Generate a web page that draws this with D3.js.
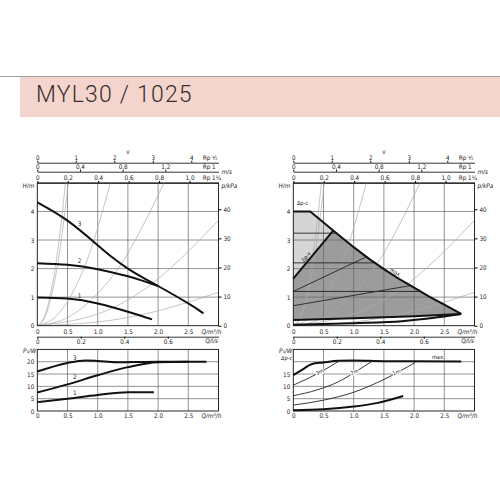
<!DOCTYPE html>
<meta charset="utf-8">
<style>
body { margin: 0; background: #fff; }
text { font-family: "DejaVu Sans Condensed", "Liberation Sans Narrow", "DejaVu Sans", sans-serif; font-size: 6.3px; fill: #222; }
.grid { stroke: #666; stroke-width: 0.7; }
.sys { fill: none; stroke: #aaa; stroke-width: 0.7; }
.curve { fill: none; stroke: #111; stroke-width: 2; }
.thin { fill: none; stroke: #222; stroke-width: 0.9; }
.it { font-style: italic; }
</style>
<body>
<script src="https://cdn.jsdelivr.net/npm/d3@7"></script>
<script>

// ---- data ----
var qTicks = [0, 0.5, 1, 1.5, 2, 2.5];
var hTicks = [0, 1, 2, 3, 4];
var pTicks = [0, 10, 20, 30, 40];
var lsTicks = [0, 0.2, 0.4, 0.6];
var wTicks = [0, 5, 10, 15, 20];
var pipeNames = ["Rp ½", "Rp 1", "Rp 1¼"];
var pipeFactor = [0.6375, 1.766, 2.52];   // m3/h per 1 m/s
var vTicks = [[0, 1, 2, 3, 4], [0, 0.4, 0.8, 1.2], [0, 0.2, 0.4, 0.6, 0.8, 1.0]];

// system curves (Q m3/h, H m)
var sysCurves = [
  [[0,0],[0.1,0.23],[0.2,0.92],[0.3,2.07],[0.4,3.68],[0.466,5]],
  [[0,0],[0.1,0.19],[0.2,0.76],[0.3,1.71],[0.4,3.04],[0.513,5]],
  [[0,0],[0.3,0.31],[0.6,1.22],[0.9,2.75],[1.21,5]],
  [[0,0],[0.5,0.28],[1.0,1.13],[1.5,2.54],[2.1,5]],
  [[0,0],[1,0.41],[2,1.64],[3,3.69]],
  [[0,0],[1,0.13],[2,0.52],[3,1.17]]
];

// left: speed stages
var head3 = [[0,4.32],[0.5,3.68],[1.0,2.82],[1.25,2.38],[1.5,2.0],[1.75,1.68],[2.0,1.39],[2.5,0.78],[2.75,0.43]];
var head2 = [[0,2.19],[0.5,2.13],[1.0,1.98],[1.5,1.73],[1.75,1.57],[2.0,1.39]];
var head1 = [[0,0.99],[0.5,0.95],[1.0,0.78],[1.5,0.49],[1.9,0.22]];
var power3 = [[0,16],[0.5,19.5],[0.8,20.5],[1.0,20.3],[1.3,19.8],[2.0,20],[2.8,20]];
var power2 = [[0,7.5],[0.5,10.8],[1.0,14.5],[1.5,17.8],[2.0,19.8],[2.5,20]];
var power1 = [[0,3.6],[0.5,5],[1.0,6.5],[1.5,7.6],[1.93,7.6]];

// right: control modes
var maxHead = [[0,4.0],[0.28,4.0],[0.66,3.33],[1.0,2.75],[1.25,2.35],[1.5,1.98],[1.75,1.64],[2.0,1.33],[2.25,1.02],[2.5,0.74],[2.78,0.41]];
var dpvMax = [[0,1.65],[0.66,3.33]];
var dpvLines = [[[0,1.2],[1.2,2.4]], [[0,0.7],[1.93,1.4]]];
var dpcLines = [[[0,3.24],[0.7,3.24]], [[0,2.2],[1.36,2.2]], [[0,1.2],[2.11,1.2]]];
var minUpper = [[0,0.2],[1.0,0.26],[2.0,0.33],[2.78,0.41]];
var minLower = [[0,0.03],[1.0,0.09],[1.8,0.16],[2.3,0.27],[2.78,0.41]];
var powerMax = [[0,14.6],[0.15,16.8],[0.3,19.0],[0.5,19.7],[0.75,20.4],[1.0,20.5],[1.5,20.2],[2.0,20.2],[2.78,20.1]];
var power3m = [[0,10.5],[0.25,13.3],[0.5,16.5],[0.75,20.2]];
var power2m = [[0,6.2],[0.4,8.6],[0.75,11.9],[1.1,17.0],[1.3,20.1]];
var power1m = [[0,2.4],[0.5,4.4],[1.0,7.6],[1.5,12.8],[2.02,19.7]];
var powerMin = [[0,0.3],[0.5,0.7],[1.0,1.8],[1.4,3.3],[1.82,6.1]];

var svg = d3.select("body").append("svg")
    .attr("width", 500)
    .attr("height", 500);

// header band
svg.append("line").attr("x1", 0).attr("x2", 500).attr("y1", 76.5).attr("y2", 76.5)
    .attr("stroke", "#8a8a8a").attr("stroke-width", 0.8);
svg.append("rect").attr("x", 20).attr("y", 77).attr("width", 480).attr("height", 40)
    .attr("fill", "#f3d5cd");
svg.append("text").attr("x", 36).attr("y", 102)
    .attr("style", "font-family: Roboto, 'DejaVu Sans', sans-serif; font-size: 23px; font-weight: 300; letter-spacing: 1.2px; fill: #3a2c2c")
    .text("MYL30 / 1025");

var fmt1 = function(d) { return d === 0 ? "0" : d.toFixed(1); };
var noDomain = function(g) { g.select(".domain").remove(); };

// draws axes, grid and system curves of one panel, returns scales
function frame(ox, rightPanel) {
  var x = d3.scaleLinear().domain([0, 3]).range([37.3 + ox, 218.5 + ox]);
  var y = d3.scaleLinear().domain([0, 5]).range([325.7, 182.9]);
  var yk = y.copy().domain([0, 5 * 9.81]);
  var yw = d3.scaleLinear().domain([0, 25]).range([411, 349.4]);
  var xls = x.copy().domain([0, 3 / 3.6]);
  var g = svg.append("g");
  var under = g.append("g");
  var clip = "clip" + ox;
  g.append("clipPath").attr("id", clip).append("rect")
      .attr("x", x(0)).attr("y", y(5)).attr("width", x(3) - x(0)).attr("height", y(0) - y(5));

  // velocity scales on top
  var vy = [162.7, 171.7, y(5)];
  pipeNames.forEach(function(name, i) {
    var s = x.copy().domain([0, 3 / pipeFactor[i]]);
    g.append("g").attr("transform", "translate(0," + vy[i] + ")")
        .call(d3.axisTop(s).tickValues(vTicks[i]).tickSize(2).tickSizeOuter(0).tickPadding(1.2)
          .tickFormat(i === 0 ? d3.format("d") : fmt1))
        .call(function(a) { a.select(".domain").attr("stroke-width", 0.8); });
    g.append("text").attr("x", x(2.74)).attr("y", vy[i] - 3.2).text(name);
  });
  g.append("text").attr("x", x(1.5)).attr("y", 154).attr("text-anchor", "middle").text("v");
  g.append("text").attr("class", "it").attr("x", x(3) + 3).attr("y", 173.8).text("m/s");

  // head grid
  g.append("g").selectAll("line").data(qTicks.slice(1)).join("line").attr("class", "grid")
      .attr("x1", x).attr("x2", x).attr("y1", y(0)).attr("y2", y(5));
  g.append("g").selectAll("line").data(hTicks.slice(1)).join("line").attr("class", "grid")
      .attr("x1", x(0)).attr("x2", x(3)).attr("y1", y).attr("y2", y);

  var sysLine = d3.line().x(function(d) { return x(d[0]); }).y(function(d) { return y(d[1]); })
      .curve(d3.curveNatural);
  g.append("g").attr("clip-path", "url(#" + clip + ")")
    .selectAll("path").data(sysCurves).join("path").attr("class", "sys").attr("d", sysLine);

  g.append("rect").attr("x", x(0)).attr("y", y(5)).attr("width", x(3) - x(0)).attr("height", y(0) - y(5))
      .attr("fill", "none").attr("stroke", "#111").attr("stroke-width", 0.9);

  g.append("g").attr("transform", "translate(" + x(0) + ",0)")
      .call(d3.axisLeft(y).tickValues(hTicks).tickSize(0).tickPadding(3).tickFormat(d3.format("d"))).call(noDomain);
  g.append("g").attr("transform", "translate(" + x(3) + ",0)")
      .call(d3.axisRight(yk).tickValues(pTicks).tickSize(3).tickPadding(2).tickFormat(d3.format("d"))).call(noDomain);
  g.append("g").attr("transform", "translate(0," + y(0) + ")")
      .call(d3.axisBottom(x).tickValues(qTicks).tickSize(0).tickPadding(3.6).tickFormat(fmt1)).call(noDomain);
  g.append("text").attr("class", "it").attr("x", x(0) - 3).attr("y", 188).attr("text-anchor", "end").text("H/m");
  g.append("text").attr("class", "it").attr("x", x(3) + 3).attr("y", 188).text("p/kPa");
  g.append("text").attr("class", "it").attr("x", x(2.72)).attr("y", 334).text("Q/m³/h");

  // l/s scale
  g.append("g").attr("transform", "translate(0,336.7)")
      .call(d3.axisBottom(xls).tickValues(lsTicks).tickSize(2).tickSizeOuter(0).tickPadding(0.5).tickFormat(fmt1))
      .call(function(a) { a.select(".domain").attr("stroke-width", 0.8); });
  g.append("text").attr("class", "it").attr("x", x(2.78)).attr("y", 343.3).text("Q/l/s");

  // power grid
  g.append("g").selectAll("line").data(qTicks.slice(1)).join("line").attr("class", "grid")
      .attr("x1", x).attr("x2", x).attr("y1", yw(0)).attr("y2", yw(25));
  g.append("g").selectAll("line").data(wTicks.slice(1)).join("line").attr("class", "grid")
      .attr("x1", x(0)).attr("x2", x(3)).attr("y1", yw).attr("y2", yw);
  g.append("rect").attr("x", x(0)).attr("y", yw(25)).attr("width", x(3) - x(0)).attr("height", yw(0) - yw(25))
      .attr("fill", "none").attr("stroke", "#111").attr("stroke-width", 0.9);
  g.append("g").attr("transform", "translate(" + x(0) + ",0)")
      .call(d3.axisLeft(yw).tickValues(rightPanel ? wTicks.slice(0, 4) : wTicks).tickSize(0).tickPadding(3)).call(noDomain);
  g.append("g").attr("transform", "translate(0," + yw(0) + ")")
      .call(d3.axisBottom(x).tickValues(qTicks).tickSize(0).tickPadding(2.4).tickFormat(fmt1)).call(noDomain);
  g.append("text").attr("class", "it").attr("x", x(2.72)).attr("y", 418).text("Q/m³/h");
  g.append("text").attr("class", "it").attr("x", x(0) - 1).attr("y", 352.5).attr("text-anchor", "end")
      .text("P₁/W");

  return { x: x, y: y, yw: yw, g: g, under: under };
}

function angle(x, yy, a, b) {
  return Math.atan2(yy(b[1]) - yy(a[1]), x(b[0]) - x(a[0])) * 180 / Math.PI;
}

// ---- left panel ----
var L = frame(0, false);
var lh = d3.line().x(function(d) { return L.x(d[0]); }).y(function(d) { return L.y(d[1]); }).curve(d3.curveNatural);
var lp = d3.line().x(function(d) { return L.x(d[0]); }).y(function(d) { return L.yw(d[1]); }).curve(d3.curveMonotoneX);
[head3, head2, head1].forEach(function(c) { L.g.append("path").attr("class", "curve").attr("d", lh(c)); });
[power3, power2, power1].forEach(function(c) { L.g.append("path").attr("class", "curve").attr("d", lp(c)); });
[["3", 3.55], ["2", 2.27], ["1", 1.04]].forEach(function(s) {
  L.g.append("text").attr("x", L.x(0.7)).attr("y", L.y(s[1]) + 2).attr("text-anchor", "middle").text(s[0]);
});
[["3", 21.6], ["2", 13.6], ["1", 7.2]].forEach(function(s) {
  L.g.append("text").attr("x", L.x(0.62)).attr("y", L.yw(s[1]) + 2).attr("text-anchor", "middle").text(s[0]);
});

// ---- right panel ----
var R = frame(256, true);
var rl = d3.line().x(function(d) { return R.x(d[0]); }).y(function(d) { return R.y(d[1]); });
var rlc = d3.line().x(function(d) { return R.x(d[0]); }).y(function(d) { return R.y(d[1]); }).curve(d3.curveMonotoneX);
var rp = d3.line().x(function(d) { return R.x(d[0]); }).y(function(d) { return R.yw(d[1]); }).curve(d3.curveMonotoneX);

var lightArea = maxHead.filter(function(d) { return d[0] <= 0.66; }).concat([dpvMax[0]]);
var darkArea = [dpvMax[0]].concat(maxHead.filter(function(d) { return d[0] >= 0.66; }))
    .concat(minUpper.slice().reverse());
R.under.append("path").attr("d", rl(lightArea) + "Z").attr("fill", "#d5d5d5");
R.under.append("path").attr("d", rl(darkArea) + "Z").attr("fill", "#9c9c9c");

dpcLines.concat(dpvLines).forEach(function(c) {
  R.g.append("path").attr("class", "thin").attr("d", rl(c));
});
R.g.append("path").attr("class", "curve").attr("d", rl(maxHead));
R.g.append("path").attr("class", "curve").attr("d", rl(dpvMax));
R.g.append("path").attr("class", "curve").attr("stroke-width", 1.8).attr("d", rl(minUpper));
R.g.append("path").attr("class", "curve").attr("stroke-width", 1.3).attr("d", rlc(minLower));

R.g.append("text").attr("x", R.x(0.06)).attr("y", R.y(4.22)).style("font-size", "5.6px").text("Δp-c");
var a1 = angle(R.x, R.y, dpvMax[0], dpvMax[1]);
R.g.append("text").attr("transform", "translate(" + (R.x(0.27) - 2) + "," + (R.y(2.33) - 1) + ") rotate(" + a1 + ")")
    .attr("text-anchor", "middle").style("font-size", "5.6px").text("Δp-v");
var a2 = angle(R.x, R.y, [1.5, 1.98], [2.0, 1.33]);
R.g.append("text").attr("transform", "translate(" + R.x(1.68) + "," + (R.y(1.74) - 1.8) + ") rotate(" + a2 + ")")
    .attr("text-anchor", "middle").style("font-size", "5.6px").text("max.");

[power1m, power2m, power3m].forEach(function(c) {
  R.g.append("path").attr("class", "thin").attr("d", rp(c));
});
R.g.append("path").attr("class", "curve").attr("d", rp(powerMax));
R.g.append("path").attr("class", "curve").attr("d", rp(powerMin));
[["3m", power3m, 0.45, 1, 2], ["2m", power2m, 1.02, 2, 3], ["1m", power1m, 1.72, 3, 4]].forEach(function(s) {
  var c = s[1];
  var ang = angle(R.x, R.yw, c[s[3] - 1], c[s[4] - 1]);
  var pv = d3.scaleLinear().domain(c.map(function(d) { return d[0]; })).range(c.map(function(d) { return d[1]; }))(s[2]);
  R.g.append("text").attr("transform", "translate(" + R.x(s[2]) + "," + (R.yw(pv) + 1.8) + ") rotate(" + ang + ")")
      .attr("text-anchor", "middle").style("font-size", "5.4px")
      .style("stroke", "#fff").style("stroke-width", 2).style("paint-order", "stroke").text(s[0]);
});
R.g.append("text").attr("x", R.x(2.4)).attr("y", R.yw(21.3)).attr("text-anchor", "middle").style("font-size", "5.6px").text("max.");
R.g.append("text").attr("class", "it").attr("x", R.x(0) - 1).attr("y", 360).attr("text-anchor", "end")
    .style("font-size", "5.6px").text("Δp-c");

</script>
</body>
